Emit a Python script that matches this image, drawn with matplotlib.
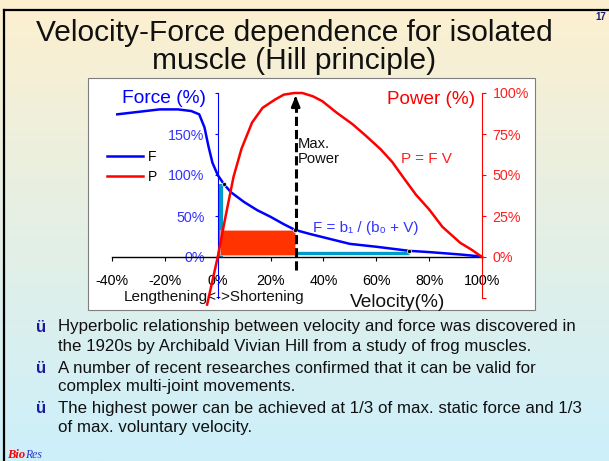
import numpy as np
from matplotlib import pyplot as plt
from matplotlib import rcParams
from matplotlib.lines import Line2D
from matplotlib.patches import Rectangle

rcParams['font.family'] = ['Liberation Sans', 'DejaVu Sans']

W, H = 609, 461

# force curve (velocity %, force %)
vel_force = [-38, -30, -22, -15, -10, -7, -5, -3.5, -2, 0, 2.3, 5, 10, 15, 20,
             25, 29.3, 35, 40, 50, 60, 72.5, 80, 86, 92, 100]
force = [174, 177, 180, 180, 178, 174, 158, 135, 115, 100, 89, 79, 67, 57, 49,
         40, 33, 28, 24, 16, 12.5, 7.5, 6, 4.5, 3, 0.5]

# power curve (velocity %, power %)
vel_power = [-4, 0, 3, 6, 9, 13, 17, 21.7, 25, 29, 32, 36, 39.6, 45, 51, 56,
             61.7, 66, 70, 75, 80, 85, 91.8, 96, 100]
power = [-29, 0, 25, 49, 66, 82, 91, 96, 99, 100, 100, 98, 95, 88, 81, 74,
         65.6, 58, 49, 38, 29, 18.4, 8.6, 4.5, 0]

vel_ticks = [-40, -20, 0, 20, 40, 60, 80, 100]
force_ticks = [0, 50, 100, 150, 200]
power_ticks = [-25, 0, 25, 50, 75, 100]

# marked points and areas
dots_v = [2.3, 29.3, 72.5]
dots_f = [89, 33, 7.5]
max_v = 29.5
rect_v = (0.8, 29.2)
rect_f = (2.5, 33)
fbar_v = 1.1
vbar_v = (29.8, 72.5)
vbar_f = 5

title = ['Velocity-Force dependence for isolated', 'muscle (Hill principle)']
bullets = [
    ['Hyperbolic relationship between velocity and force was discovered in',
     'the 1920s by Archibald Vivian Hill from a study of frog muscles.'],
    ['A number of recent researches confirmed that it can be valid for',
     'complex multi-joint movements.'],
    ['The highest power can be achieved at 1/3 of max. static force and 1/3',
     'of max. voluntary velocity.'],
]


def fx(px):
    return px / W


def fy(py):
    return 1 - py / H


fig = plt.figure(figsize=(W / 100, H / 100), dpi=100)

# slide background gradient
bg = fig.add_axes([0, 0, 1, 1], zorder=-10)
top = np.array([0xFD, 0xF0, 0xCF]) / 255
bot = np.array([0xCC, 0xEF, 0xFB]) / 255
t = np.linspace(0, 1, 256)[:, None]
grad = (top * (1 - t) + bot * t)[:, None, :]
bg.imshow(grad, aspect='auto', extent=[0, 1, 0, 1])
bg.set_axis_off()

fig.add_artist(Line2D([fx(4), 1], [fy(10), fy(10)], color='black', lw=1.6))
fig.add_artist(Line2D([fx(4), fx(4)], [fy(10), 0], color='black', lw=1.6))
fig.add_artist(Rectangle((fx(88), fy(310)), fx(535) - fx(88), fy(78) - fy(310),
                         transform=fig.transFigure, facecolor='white',
                         edgecolor='#7f7f7f', lw=0.8, zorder=0))

for line, py in zip(title, [33, 61]):
    fig.text(fx(294), fy(py), line, ha='center', va='center', fontsize=21.5,
             color='#111111')
fig.text(fx(601), fy(16.5), '17', ha='center', va='center', fontsize=7,
         fontweight='bold', color='#1a1a80')

# chart
ax = fig.add_axes([fx(112), fy(298), fx(482) - fx(112), fy(93) - fy(298)])
ax.patch.set_alpha(0)
ax.set_xlim(-40, 100)
ax.set_ylim(-50, 200)
for s in ['top', 'right']:
    ax.spines[s].set_visible(False)
ax.spines['left'].set_position(('data', 0))
ax.spines['left'].set_color('blue')
ax.spines['left'].set_linewidth(0.8)
ax.spines['bottom'].set_position(('data', 0))
ax.spines['bottom'].set_linewidth(1.0)
ax.set_xticks(vel_ticks)
ax.set_xticklabels(['%d%%' % v for v in vel_ticks])
ax.set_yticks(force_ticks)
ax.set_yticklabels(['%d%%' % v if v < 200 else '' for v in force_ticks])
ax.tick_params(axis='x', direction='out', length=3, width=0.8, pad=9,
               labelsize=10.3)
ax.tick_params(axis='y', direction='out', length=2.5, width=0.8, pad=7,
               labelsize=10.3, colors='blue', labelcolor='#3333ff')

ax2 = ax.twinx()
ax2.set_ylim(-25, 100)
for s in ['top', 'left', 'bottom']:
    ax2.spines[s].set_visible(False)
ax2.spines['right'].set_color('red')
ax2.spines['right'].set_linewidth(0.8)
ax2.set_yticks(power_ticks)
ax2.set_yticklabels(['%d%%' % v if v >= 0 else '' for v in power_ticks])
ax2.tick_params(axis='y', direction='out', length=3, width=0.8, pad=4.5,
                labelsize=10.3, colors='red', labelcolor='#ff2020')

ax.add_patch(Rectangle((rect_v[0], rect_f[0]), rect_v[1] - rect_v[0],
                       rect_f[1] - rect_f[0], facecolor='#ff3300',
                       edgecolor='#ffb0a0', lw=0.5, zorder=3))
ax.plot([fbar_v, fbar_v], [0, dots_f[0]], color='#0099cc', lw=3, zorder=2,
        solid_capstyle='butt')
ax.plot(vbar_v, [vbar_f, vbar_f], color='#0099cc', lw=2.4, zorder=2,
        solid_capstyle='butt')
lf, = ax.plot(vel_force, force, color='blue', lw=1.8, zorder=4, label='F')
ax.scatter(dots_v, dots_f, s=9, color='black', edgecolors='white',
           linewidths=0.5, zorder=5)
ax.plot([max_v, max_v], [-16, 192], color='black', lw=2.2, ls=(0, (3, 1.3)),
        zorder=6)
ax.annotate('', xy=(max_v, 200), xytext=(max_v, 188),
            arrowprops=dict(arrowstyle='-|>,head_width=0.25,head_length=0.6',
                            color='black', lw=2), zorder=6)
lp, = ax2.plot(vel_power, power, color='red', lw=1.8, clip_on=False,
               label='P')

ax.legend(handles=[lf, lp], loc='upper left', frameon=False, fontsize=10,
          handlelength=2.6, handletextpad=0.35, labelspacing=0.45,
          borderpad=0, borderaxespad=0,
          bbox_to_anchor=(fx(107), fy(150)), bbox_transform=fig.transFigure)

ax.text(-20.3, 192.7, 'Force (%)', color='blue', fontsize=13.8,
        ha='center', va='center')
ax.text(80.7, 191.5, 'Power (%)', color='red', fontsize=13.6,
        ha='center', va='center')
ax.text(30.1, 128.6, 'Max.\nPower', color='#111111', fontsize=10.6,
        ha='left', va='center', linespacing=1.15)
ax.text(78.8, 119.5, 'P = F V', color='#ff2020', fontsize=11,
        ha='center', va='center')
ax.text(56.1, 35.4, 'F = b\u2081 / (b\u2080 + V)', color='#3333ff',
        fontsize=11, ha='center', va='center', zorder=7)
ax.text(-1.4, -48.8, 'Lengthening<->Shortening', color='#111111',
        fontsize=11, ha='center', va='center')
ax.text(68.2, -54.9, 'Velocity(%)', color='#111111', fontsize=13.8,
        ha='center', va='center', clip_on=False)

# bullet text
line_y = [[327, 346], [368, 387], [408, 427]]
for lines, ys in zip(bullets, line_y):
    fig.text(fx(41), fy(ys[0]), '\u00fc', ha='center', va='center',
             fontsize=12, fontweight='bold', color='#1a1aa0')
    for line, py in zip(lines, ys):
        fig.text(fx(58), fy(py), line, ha='left', va='center', fontsize=12.2,
                 color='#111111')

fig.text(fx(7), fy(455), 'Bio', ha='left', va='center', fontsize=9,
         family='Liberation Serif', style='italic', fontweight='bold',
         color='red')
fig.text(fx(25), fy(455), 'Res', ha='left', va='center', fontsize=8.5,
         family='Liberation Serif', style='italic', color='#2a3ad0')

fig.savefig('out.png', dpi=100)
